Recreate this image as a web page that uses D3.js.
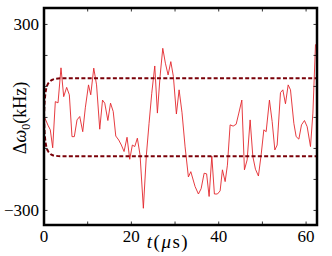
<!DOCTYPE html>
<html>
  <head>
    <meta charset="UTF-8">
    <style>
      body {
        margin: 0;
        background: white;
      }

      text {
        font-family: "Liberation Serif", "DejaVu Serif", serif;
        fill: black;
      }
    </style>
    <script src="https://d3js.org/d3.v7.min.js"></script>
  </head>

  <body>
    <svg id="chart"></svg>

    <script type="text/javascript">
      // measured detuning trace (t in us, value in kHz)
      let tValues = [0.16, 0.9, 1.44, 1.99, 2.59, 3.21, 3.89, 4.51, 5.19, 5.80,
        6.41, 6.94, 7.56, 8.18, 8.87, 9.46, 10.19, 10.70, 11.39, 12.03,
        12.76, 13.40, 13.91, 14.62, 15.23, 15.85, 16.43, 17.11, 17.71, 18.33,
        19.01, 19.63, 20.23, 20.78, 21.37, 21.99, 22.75, 23.44, 24.05, 24.67,
        25.36, 25.96, 26.57, 27.19, 27.79, 28.41, 29.03, 29.62, 30.31, 30.93,
        31.60, 32.30, 33.06, 33.61, 34.59, 35.35, 35.97, 36.66, 37.23, 37.80,
        38.42, 39.01, 39.70, 40.32, 40.85, 41.47, 41.99, 42.61, 43.30, 43.99,
        44.60, 45.29, 45.89, 46.51, 47.19, 47.81, 48.41, 49.09, 49.71, 50.33,
        50.86, 51.61, 52.23, 52.85, 53.38, 54.14, 54.68, 55.28, 55.90, 56.43,
        57.20, 57.73, 58.35, 58.95, 59.63, 60.25, 61.01, 61.56, 62.15, 62.5]
      let dOmega = [0, -25, -40, -98, 51, 47, 160, 67, 97, 73,
        -62, -62, -8, 3, -46, 31, 105, 73, 159, 105,
        -38, 56, 46, -10, 46, 19, -60, -73, -89, -110,
        -64, -135, -89, -94, -67, -121, -293, -121, -19, 78,
        166, 14, 132, 223, 175, 137, 180, 132, 11, 89,
        15, -95, -192, -175, -223, -247, -230, -180, -182, -255,
        -125, -247, -247, -237, -169, -207, -154, -24, -28, -22,
        14, 56, -169, -137, -8, -126, -167, -189, -121, -40,
        -46, 56, -13, -105, -89, 80, 89, 44, 105, 89,
        -19, -62, -70, -24, -10, -30, -94, 14, 234, 240]

      // envelope (dashed)
      let envT = [0, 0.1, 0.25, 0.5, 0.9, 1.4, 2.0, 2.8, 3.8, 5.0, 62.5]
      let envUpper = [0, 40, 68, 92, 108, 117, 122, 125, 126, 126, 126]
      let envLower = [0, -40, -68, -92, -108, -117, -122, -124, -125, -125, -125]

      let xTicks = [0, 10, 20, 30, 40, 50, 60]
      let xTickLabels = [0, 20, 40, 60]
      let yTicks = [-300, -200, -100, 0, 100, 200, 300]
      let yTickLabels = [-300, 300]

      let width = 332
      let height = 256
      let margin = { top: 8, right: 15, bottom: 31, left: 44 }
      let bodyWidth = width - margin.left - margin.right
      let bodyHeight = height - margin.top - margin.bottom

      let svg = d3.select('#chart')
        .attr('width', width)
        .attr('height', height)

      let xScale = d3.scaleLinear()
        .domain([0, 62.5])
        .range([0, bodyWidth])

      let yScale = d3.scaleLinear()
        .domain([-347, 353])
        .range([bodyHeight, 0])

      let g = svg.append('g')
        .attr('transform', `translate(${margin.left}, ${margin.top})`)

      g.append('clipPath')
        .attr('id', 'clip')
        .append('rect')
        .attr('width', bodyWidth)
        .attr('height', bodyHeight)

      let line = d3.line()
        .x(d => xScale(d[0]))
        .y(d => yScale(d[1]))

      let plot = g.append('g').attr('clip-path', 'url(#clip)')

      plot.append('path')
        .datum(tValues.map((t, i) => [t, dOmega[i]]))
        .attr('d', line)
        .attr('fill', 'none')
        .attr('stroke', '#e3262b')
        .attr('stroke-width', 0.9)

      let envLine = d3.line()
        .curve(d3.curveMonotoneX)
        .x(d => xScale(d[0]))
        .y(d => yScale(d[1]))

      ;[envUpper, envLower].forEach(env => {
        plot.append('path')
          .datum(envT.map((t, i) => [t, env[i]]))
          .attr('d', envLine)
          .attr('fill', 'none')
          .attr('stroke', '#7a0008')
          .attr('stroke-width', 2)
          .attr('stroke-dasharray', '4,2.3')
      })

      // ticks on all four sides, pointing inward
      let tickLen = 3.5
      let tickG = g.append('g').attr('stroke', 'black').attr('stroke-width', 0.8)
      xTicks.forEach(t => {
        tickG.append('line')
          .attr('x1', xScale(t)).attr('x2', xScale(t))
          .attr('y1', bodyHeight).attr('y2', bodyHeight - tickLen)
        tickG.append('line')
          .attr('x1', xScale(t)).attr('x2', xScale(t))
          .attr('y1', 0).attr('y2', tickLen)
      })
      yTicks.forEach(v => {
        tickG.append('line')
          .attr('x1', 0).attr('x2', tickLen)
          .attr('y1', yScale(v)).attr('y2', yScale(v))
        tickG.append('line')
          .attr('x1', bodyWidth).attr('x2', bodyWidth - tickLen)
          .attr('y1', yScale(v)).attr('y2', yScale(v))
      })

      g.append('rect')
        .attr('width', bodyWidth)
        .attr('height', bodyHeight)
        .attr('fill', 'none')
        .attr('stroke', 'black')
        .attr('stroke-width', 2.5)

      g.selectAll('.xlabel')
        .data(xTickLabels)
        .join('text')
          .attr('x', d => xScale(d))
          .attr('y', bodyHeight + 17)
          .attr('text-anchor', 'middle')
          .style('font-size', '17px')
          .text(d => d)

      g.selectAll('.ylabel')
        .data(yTickLabels)
        .join('text')
          .attr('x', -5)
          .attr('y', d => yScale(d) + 6)
          .attr('text-anchor', 'end')
          .style('font-size', '17px')
          .text(d => d < 0 ? '\u2212' + Math.abs(d) : d)

      // axis titles
      let xt = svg.append('text')
        .attr('x', 168)
        .attr('y', 248)
        .attr('text-anchor', 'middle')
        .style('font-size', '19px')
        .style('letter-spacing', '1.5px')
      xt.append('tspan').style('font-style', 'italic').text('t')
      xt.append('tspan').text('(')
      xt.append('tspan').style('font-style', 'italic').text('\u03bc')
      xt.append('tspan').text('s)')

      let yt = svg.append('text')
        .attr('transform', 'translate(26, 118) rotate(-90)')
        .attr('text-anchor', 'middle')
        .style('font-size', '18px')
      yt.append('tspan').text('\u0394')
      yt.append('tspan').style('font-style', 'italic').text('\u03c9')
      yt.append('tspan').attr('dy', 4).style('font-size', '12px').text('0')
      yt.append('tspan').attr('dy', -4).text('(kHz)')
    </script>
  </body>
</html>
